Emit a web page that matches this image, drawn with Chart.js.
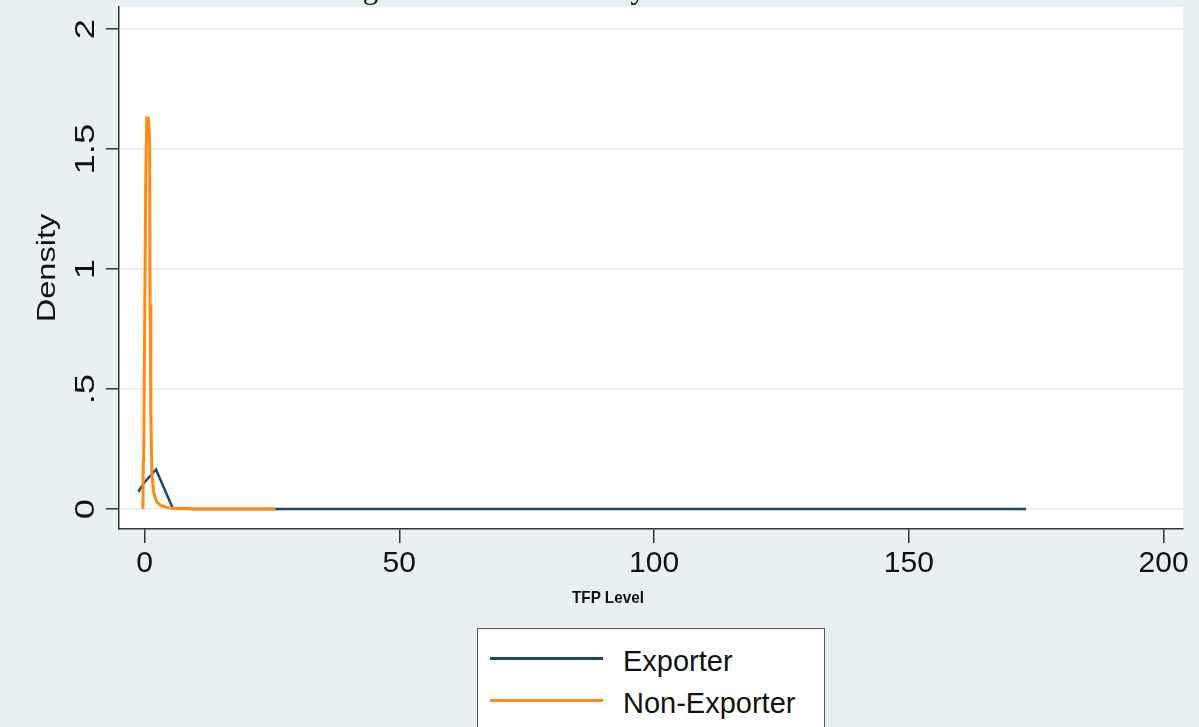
<!DOCTYPE html>
<html>
<head>
<meta charset="utf-8">
<script src="https://cdn.jsdelivr.net/npm/chart.js@4/dist/chart.umd.min.js"></script>
<style>
    html, body { margin: 0; padding: 0; }
    body { width: 1199px; height: 727px; overflow: hidden; position: relative; background: #e9f0f3; font-family: "Liberation Sans", Arial, sans-serif; }
    #chart { position: absolute; left: 0; top: 0; }
    .cap { position: absolute; left: 337px; top: -28px; font: 31px/31px "Liberation Serif", "Times New Roman", serif; color: #111; white-space: nowrap; }
    .xtitle { position: absolute; left: 608px; top: 598px; transform: translate(-50%, -50%) scaleX(0.9); font: bold 17px "Liberation Sans", Arial, sans-serif; color: #111; white-space: nowrap; }
    .legend { position: absolute; left: 477px; top: 628px; width: 348px; height: 130px; background: #fff; border: 1.5px solid #555; box-sizing: border-box; }
    .legend .swatch { position: absolute; left: 12px; width: 113px; height: 0; border-top: 3px solid; }
    .legend .lab { position: absolute; left: 145px; font-size: 29px; color: #111; white-space: nowrap; transform: translateY(-50%); }
</style>
</head>
<body>
<canvas id="chart" width="1199" height="727"></canvas>
<div class="cap">Figure 3: Kernel Density Estimation</div>
<div class="xtitle">TFP Level</div>
<div class="legend" id="legend"></div>

<script>
// ---- data ----
var xTicks = [0, 50, 100, 150, 200];
var yTicks = [0, 0.5, 1, 1.5, 2];
var yTickLabels = ['0', '.5', '1', '1.5', '2'];

var seriesNames = ['Exporter', 'Non-Exporter'];
var seriesColors = ['#1a476f', '#ff8a14'];

var exporterX = [-1.22, 0.1, 2.26, 5.55, 10, 30, 60, 100, 140, 173];
var exporterY = [0.072, 0.114, 0.165, 0.003, 0, 0, 0, 0, 0, 0];

var nonExporterX = [-0.3, -0.24, -0.15, 0.25, 0.45, 0.75, 1.0, 1.1, 1.25, 1.45, 1.8, 2.4, 3.2, 4.5, 6, 10, 18, 25.7];
var nonExporterY = [0.0, 0.2, 0.22, 1.37, 1.63, 1.63, 1.55, 0.85, 0.4, 0.15, 0.07, 0.03, 0.015, 0.006, 0.002, 0, 0, 0];

function toPoints(xs, ys) {
    var pts = [];
    for (var i = 0; i < xs.length; i++) pts.push({ x: xs[i], y: ys[i] });
    return pts;
}

// white plot region + rotated y labels / title (Stata style)
var stataPlugin = {
    id: 'stata',
    beforeDraw: function (chart) {
        var a = chart.chartArea, ctx = chart.ctx;
        ctx.save();
        ctx.fillStyle = '#ffffff';
        ctx.fillRect(a.left, a.top, a.right - a.left, a.bottom - a.top);
        ctx.restore();
    },
    afterDraw: function (chart) {
        var ctx = chart.ctx, ys = chart.scales.y, a = chart.chartArea;
        ctx.save();
        ctx.fillStyle = '#111';
        ctx.textAlign = 'center';
        ctx.textBaseline = 'middle';
        ctx.font = '28px "Liberation Sans", Arial, sans-serif';
        for (var i = 0; i < ys.ticks.length; i++) {
            var py = ys.getPixelForValue(ys.ticks[i].value);
            ctx.save();
            ctx.translate(86, py);
            ctx.rotate(-Math.PI / 2);
            ctx.scale(1.3, 1);
            ctx.fillText(yTickLabels[i], 0, 0);
            ctx.restore();
        }
        ctx.font = '25px "Liberation Sans", Arial, sans-serif';
        ctx.save();
        ctx.translate(48, (a.top + a.bottom) / 2);
        ctx.rotate(-Math.PI / 2);
        ctx.scale(1.3, 1);
        ctx.fillText('Density', 0, 0);
        ctx.restore();
        ctx.restore();
    }
};

new Chart(document.getElementById('chart').getContext('2d'), {
    type: 'scatter',
    data: {
        datasets: [{
            label: seriesNames[0],
            data: toPoints(exporterX, exporterY),
            showLine: true,
            borderColor: seriesColors[0],
            borderWidth: 2.5,
            pointRadius: 0,
            tension: 0,
            order: 1
        }, {
            label: seriesNames[1],
            data: toPoints(nonExporterX, nonExporterY),
            showLine: true,
            borderColor: seriesColors[1],
            borderWidth: 3,
            pointRadius: 0,
            tension: 0,
            order: 0
        }]
    },
    options: {
        responsive: false,
        animation: false,
        devicePixelRatio: 1,
        layout: { padding: { left: 0, top: 7, right: 16, bottom: 0 } },
        plugins: {
            legend: { display: false },
            tooltip: { enabled: false },
            title: { display: false }
        },
        scales: {
            x: {
                type: 'linear',
                min: -5.0,
                max: 203.8,
                afterBuildTicks: function (s) { s.ticks = xTicks.map(function (v) { return { value: v }; }); },
                afterFit: function (s) { s.height = 198; },
                grid: { drawOnChartArea: false, drawTicks: true, tickLength: 14, tickColor: '#333', lineWidth: 1.5 },
                border: { display: true, color: '#333', width: 1.5 },
                ticks: {
                    padding: 3,
                    color: '#111',
                    font: { family: '"Liberation Sans", Arial, sans-serif', size: 30 },
                    maxRotation: 0,
                    callback: function (v) { return String(v); }
                }
            },
            y: {
                type: 'linear',
                min: -0.083,
                max: 2.092,
                afterBuildTicks: function (s) { s.ticks = yTicks.map(function (v) { return { value: v }; }); },
                afterFit: function (s) { s.width = 119; },
                grid: { color: '#ececec', lineWidth: 1.5, drawTicks: true, tickLength: 13, tickColor: '#333' },
                border: { display: true, color: '#333', width: 1.5 },
                ticks: { display: false }
            }
        }
    },
    plugins: [stataPlugin]
});

// HTML legend box
var legendEl = document.getElementById('legend');
var rowY = [30, 72];
for (var i = 0; i < seriesNames.length; i++) {
    var sw = document.createElement('div');
    sw.className = 'swatch';
    sw.style.top = (rowY[i] - 2) + 'px';
    sw.style.borderTopColor = seriesColors[i];
    legendEl.appendChild(sw);
    var lab = document.createElement('div');
    lab.className = 'lab';
    lab.style.top = (rowY[i] + 2) + 'px';
    lab.textContent = seriesNames[i];
    legendEl.appendChild(lab);
}
</script>
</body>
</html>
